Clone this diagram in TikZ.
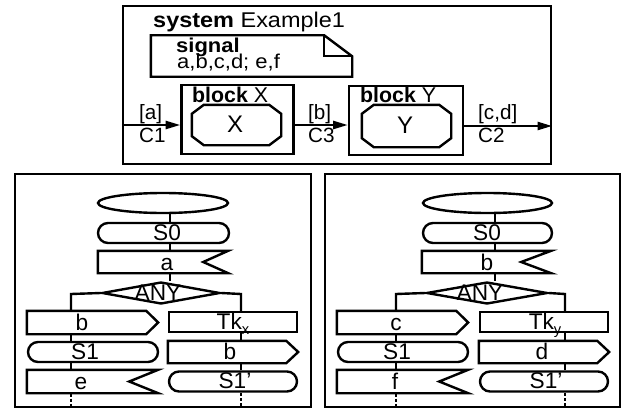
\documentclass[tikz,border=0pt]{standalone}
\usepackage{fontspec}
\usepackage{graphicx}
\setmainfont{Liberation Sans}
\usetikzlibrary{shapes.geometric,arrows.meta,calc}
\newcommand\sdlin[2]{\draw (#1.north west) -- (#1.north east) -- ($(#1.east)+(-#2,0)$) -- (#1.south east) -- (#1.south west) -- cycle;}
\newcommand\sdlout[1]{\draw (#1.north west) -- ($(#1.north east)+(-12,0)$) -- (#1.east) -- ($(#1.south east)+(-12,0)$) -- (#1.south west) -- cycle;}
\newcommand\sdlocta[1]{\draw ($(#1.north west)+(12,0)$) -- ($(#1.north east)+(-12,0)$) -- ($(#1.north east)+(0,9)$) -- ($(#1.south east)+(0,-9)$) -- ($(#1.south east)+(-12,0)$) -- ($(#1.south west)+(12,0)$) -- ($(#1.south west)+(0,-9)$) -- ($(#1.north west)+(0,9)$) -- cycle;}
\tikzset{
 wh/.style 2 args={minimum width=#1*0.75pt,minimum height=#2*0.75pt},
 panel/.style={draw,rectangle,inner sep=0pt},
 ghost/.style={rectangle,inner sep=0pt},
 sdlstate/.style={draw,rectangle,rounded corners=7.5pt,inner sep=0pt},
 startsym/.style={draw,ellipse,inner sep=0pt},
 dec/.style={draw,diamond,inner sep=0pt},
 bigtxt/.style={inner sep=0pt,anchor=base,font=\fontsize{17}{19}\selectfont},
 lbl/.style={inner sep=0pt,anchor=base west,font=\fontsize{15.5}{17}\selectfont},
 blktxt/.style={inner sep=0pt,anchor=base west,font=\fontsize{16}{18}\selectfont},
 toptxt/.style={inner sep=0pt,anchor=base west,font=\fontsize{16}{18}\selectfont},
 sigtxt/.style={inner sep=0pt,anchor=base west,font=\fontsize{15}{16}\selectfont},
 chan/.style={-{Triangle[length=11pt,width=6pt]}},
 dashline/.style={dash pattern=on 2.5pt off 1.5pt}
}
\begin{document}
\begin{tikzpicture}[x=0.75pt,y=-0.75pt,line width=1.8pt]
\useasboundingbox (0,0) rectangle (623,410);

% ---------- system ----------
\node[panel,wh={428}{158}] (sys) at (337,85) {};
\node[toptxt] (systxt) at (152,27.5) {\scalebox{1.1}[1]{\textbf{system} Example1}};
\node[ghost,wh={199}{39}] (sig) at (251.5,56) {};
\draw (sig.north west) -- ($(sig.north east)+(-28,0)$) -- ($(sig.north east)+(0,21)$) -- (sig.south east) -- (sig.south west) -- cycle;
\draw ($(sig.north east)+(-28,0)$) |- ($(sig.north east)+(0,21)$);
\node[sigtxt] (sigt1) at (175,53) {\scalebox{1.1}[1]{\textbf{signal}}};
\node[sigtxt] (sigt2) at (176,69) {\scalebox{1.1}[1]{a,b,c,d; e,f}};

\node[panel,wh={112}{69}] (bx) at (237.5,119.5) {};
\node[panel,wh={114}{69}] (by) at (406,120.5) {};
\node[blktxt] (bxt) at (191,102) {\textbf{block} X};
\node[blktxt] (byt) at (359,102) {\textbf{block} Y};
\node[ghost,wh={87}{38}] (ox) at (236.5,125) {};
\sdlocta{ox}
\node[ghost,wh={87}{40}] (oy) at (406.5,126) {};
\sdlocta{oy}
\node[inner sep=0pt,font=\fontsize{18}{20}\selectfont] (oxt) at (235,124.5) {X};
\node[inner sep=0pt,font=\fontsize{18}{20}\selectfont] (oyt) at (405,125) {Y};

\draw[chan] (sys.west |- ox) -- (bx.west |- ox);
\draw[chan] (bx.east |- ox) -- (by.west |- ox);
\draw[chan] (by.east |- oy) -- (sys.east |- oy);
\node[lbl] (la) at (138,119.5) {[a]};
\node[lbl] (lc1) at (138,142) {C1};
\node[lbl] (lb) at (307,119.5) {[b]};
\node[lbl] (lc3) at (307,142) {C3};
\node[lbl] (lcd) at (477,119.5) {[c,d]};
\node[lbl] (lc2) at (477,142) {C2};

% ---------- left process ----------
\node[panel,wh={296}{233}] (pA) at (163,290.5) {};
\node[startsym,wh={130}{20}] (e1) at (163,203) {};
\node[sdlstate,wh={131}{20}] (s0a) at (163.5,233) {};
\node[ghost,wh={128}{20}] (ia) at (163,262) {};
\sdlin{ia}{25}
\node[dec,wh={118}{22}] (anyA) at (161,293) {};
\node[ghost,wh={129}{21}] (oa1) at (92.5,322.5) {};
\sdlout{oa1}
\node[sdlstate,wh={130}{20}] (s1a) at (93,352) {};
\node[ghost,wh={129}{21}] (ia2) at (92.5,381.5) {};
\sdlin{ia2}{29}
\node[panel,wh={128}{20}] (tka) at (233,322) {};
\node[ghost,wh={128}{20}] (oa2) at (233,352) {};
\sdlout{oa2}
\node[sdlstate,wh={128}{20}] (s1pa) at (233,381.5) {};

\coordinate (mA) at (170,203);
\coordinate (brL) at (71,294);
\coordinate (brR) at (241,294);
\draw (e1.south -| mA) -- (s0a.north -| mA);
\draw (s0a.south -| mA) -- (ia.north -| mA);
\draw (ia.south -| mA) -- (anyA.north -| mA);
\draw (anyA.west) -- (brL) -- (oa1.north -| brL);
\draw (anyA.east) -- (brR) -- (tka.north -| brR);
\draw (oa1.south -| brL) -- (s1a.north -| brL);
\draw (s1a.south -| brL) -- (ia2.north -| brL);
\draw[dashline] (ia2.south -| brL) -- (pA.south -| brL);
\draw (tka.south -| brR) -- (oa2.north -| brR);
\draw (oa2.south -| brR) -- (s1pa.north -| brR);
\draw[dashline] (s1pa.south -| brR) -- (pA.south -| brR);

\node[bigtxt] (tA1) at (167,240.5) {S0};
\node[bigtxt] (tA2) at (167,270) {a};
\node[bigtxt] (tA3) at (158,300) {ANY};
\node[bigtxt] (tA4) at (82,330) {b};
\node[bigtxt] (tA5) at (85,359.5) {S1};
\node[bigtxt] (tA6) at (81,389) {e};
\node[bigtxt] (tA7) at (233,329.5) {Tk\raisebox{-4pt}{\fontsize{11}{11}\selectfont x}};
\node[bigtxt] (tA8) at (230,359.5) {b};
\node[bigtxt] (tA9) at (235,388.5) {S1'};

% ---------- right process ----------
\node[panel,wh={295}{233}] (pB) at (472.5,290.5) {};
\node[startsym,wh={129}{20}] (e2) at (487.5,203) {};
\node[sdlstate,wh={129}{20}] (s0b) at (487.5,233) {};
\node[ghost,wh={127}{20}] (ib) at (486.5,262) {};
\sdlin{ib}{30}
\node[dec,wh={121}{22}] (anyB) at (487,293) {};
\node[ghost,wh={129}{21}] (ob1) at (402.5,322.5) {};
\sdlout{ob1}
\node[sdlstate,wh={130}{20}] (s1b) at (403,352) {};
\node[ghost,wh={129}{21}] (ib2) at (402.5,381.5) {};
\sdlin{ib2}{29}
\node[panel,wh={128}{20}] (tkb) at (544,322) {};
\node[ghost,wh={128}{20}] (ob2) at (544,352) {};
\sdlout{ob2}
\node[sdlstate,wh={128}{20}] (s1pb) at (544,381.5) {};

\coordinate (mB) at (495,203);
\coordinate (brL2) at (396,294);
\coordinate (brR2) at (565,294);
\draw (e2.south -| mB) -- (s0b.north -| mB);
\draw (s0b.south -| mB) -- (ib.north -| mB);
\draw (ib.south -| mB) -- (anyB.north -| mB);
\draw (anyB.west) -- (brL2) -- (ob1.north -| brL2);
\draw (anyB.east) -- (brR2) -- (tkb.north -| brR2);
\draw (ob1.south -| brL2) -- (s1b.north -| brL2);
\draw (s1b.south -| brL2) -- (ib2.north -| brL2);
\draw[dashline] (ib2.south -| brL2) -- (pB.south -| brL2);
\draw (tkb.south -| brR2) -- (ob2.north -| brR2);
\draw (ob2.south -| brR2) -- (s1pb.north -| brR2);
\draw[dashline] (s1pb.south -| brR2) -- (pB.south -| brR2);

\node[bigtxt] (tB1) at (487,240.5) {S0};
\node[bigtxt] (tB2) at (487,270) {b};
\node[bigtxt] (tB3) at (480,300) {ANY};
\node[bigtxt] (tB4) at (396,330) {c};
\node[bigtxt] (tB5) at (397,359.5) {S1};
\node[bigtxt] (tB6) at (395,389) {f};
\node[bigtxt] (tB7) at (545,329.5) {Tk\raisebox{-4pt}{\fontsize{11}{11}\selectfont y}};
\node[bigtxt] (tB8) at (542,359.5) {d};
\node[bigtxt] (tB9) at (546,388.5) {S1'};
\end{tikzpicture}
\end{document}
